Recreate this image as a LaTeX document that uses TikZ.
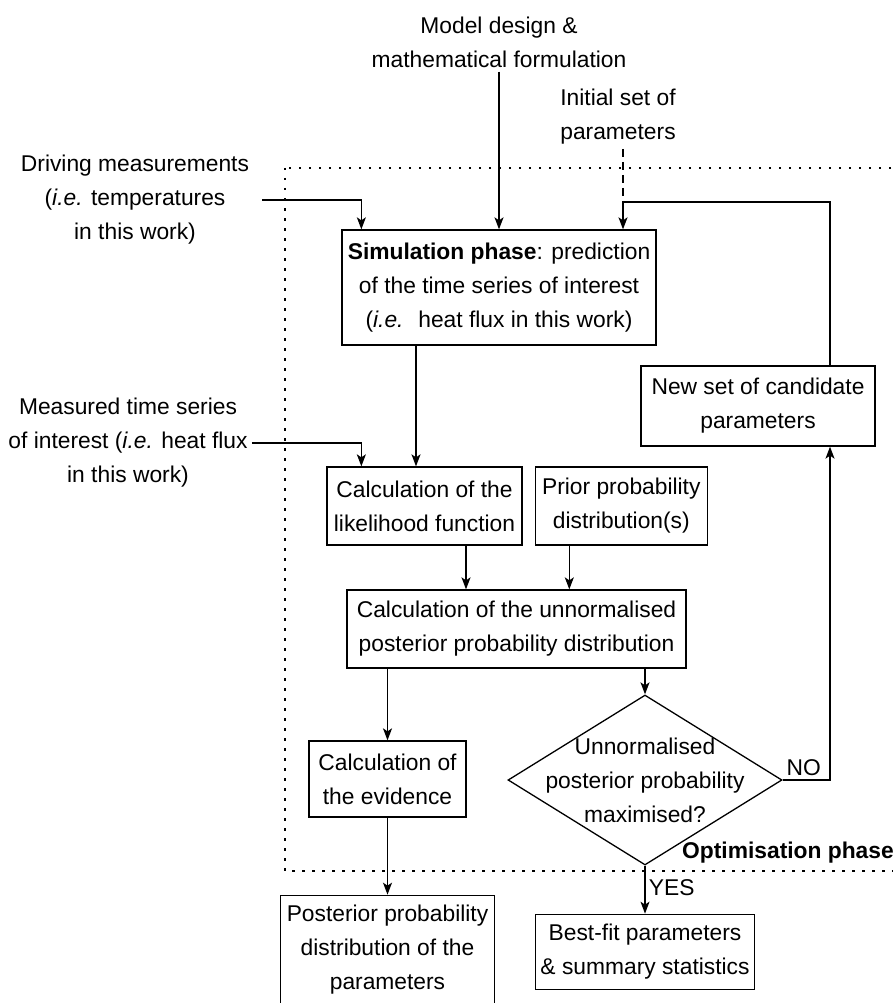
\documentclass[tikz,border=0pt]{standalone}
\usepackage{fontspec}
\setmainfont{Liberation Sans}
\usetikzlibrary{positioning,arrows.meta,shapes.geometric}

\begin{document}
\begin{tikzpicture}[
  x=1pt, y=-1pt,
  font=\fontsize{22.8}{34}\selectfont,
  txt/.style={align=center, inner sep=4pt},
  box/.style={draw, line width=1.3pt, align=center, inner sep=0pt},
  decision/.style={draw, diamond, line width=1.3pt, inner sep=0pt},
  arr/.style={-{Stealth[length=12pt,width=9pt,inset=3pt]}, line width=1.3pt},
  dashline/.style={line width=1.3pt, dash pattern=on 8pt off 5pt},
  frameline/.style={line width=1.3pt, dash pattern=on 2.5pt off 7.5pt}
]
\useasboundingbox (0,0) rectangle (892,1003);

\draw[frameline] (285,168) rectangle (905,871);
\node[anchor=west, inner sep=0pt] (optlabel) at (682,853) {\bfseries Optimisation phase};

\node[txt] (model) at (499,42) {Model design \&\\mathematical formulation};
\node[txt] (init) at (618,117) {Initial set of\\parameters};
\node[txt] (drive) at (135,200) {Driving measurements\\(\textit{i.e.} temperatures\\in this work)};
\node[txt] (meas) at (128,443) {Measured time series\\of interest (\textit{i.e.} heat flux\\in this work)};

\node[box, minimum width=314pt, minimum height=115pt] (sim) at (499,287.5) {\textbf{Simulation phase}: prediction\\of the time series of interest\\(\textit{i.e.}~ heat flux in this work)};
\node[box, minimum width=234pt, minimum height=80pt] (newset) at (758,406) {New set of candidate\\parameters};
\node[box, minimum width=195pt, minimum height=78pt] (like) at (424.5,506) {Calculation of the\\likelihood function};
\node[box, minimum width=172pt, minimum height=78pt, right=12pt of like] (prior) {Prior probability\\distribution(s)};
\node[box, minimum width=339pt, minimum height=78pt] (unnorm) at (516.5,629) {Calculation of the unnormalised\\posterior probability distribution};
\node[box, minimum width=157pt, minimum height=76pt] (evid) at (387.5,779) {Calculation of\\the evidence};
\node[decision, minimum width=274pt, minimum height=170pt, label={[align=center]center:Unnormalised\\posterior probability\\maximised?}] (decide) at (645,780) {};
\node[box, minimum width=214pt, minimum height=108pt, below=77pt of evid] (post) {Posterior probability\\distribution of the\\parameters};
\node[box, minimum width=219pt, minimum height=75pt, below=48pt of decide] (best) {Best-fit parameters\\\& summary statistics};

\coordinate (join) at (623,202);

\draw[arr] (model) -- (sim);
\draw[arr] ([xshift=9pt]drive.east) -| ([xshift=20pt]sim.north west);
\draw[dashline] (init.south -| join) -- (join);
\draw[arr] ([xshift=72pt]newset.north) |- (join) -- (join |- sim.north);
\draw[arr] ([xshift=-83pt]sim.south) -- ([xshift=-83pt]sim.south |- like.north);
\draw[arr] (meas.east) -| ([xshift=35pt]like.north west);
\draw[arr] ([xshift=41.5pt]like.south) -- ([xshift=41.5pt]like.south |- unnorm.north);
\draw[arr] ([xshift=-52pt]prior.south) -- ([xshift=-52pt]prior.south |- unnorm.north);
\draw[arr] (unnorm.south -| evid) -- (evid);
\draw[arr] (unnorm.south -| decide) -- (decide);
\draw[arr] (evid) -- (post);
\draw[arr] (decide) -- node[right, pos=0.45] (yes) {YES} (best);
\draw[arr] (decide.east) -| node[pos=0, above right] (no) {NO} ([xshift=72pt]newset.south);

\end{tikzpicture}
\end{document}
